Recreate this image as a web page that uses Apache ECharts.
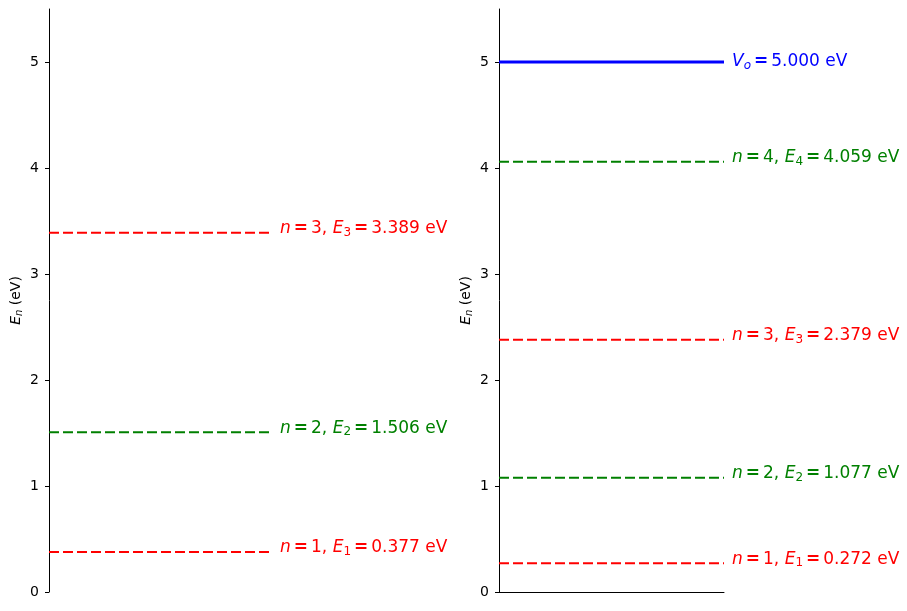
<!DOCTYPE html>
<html>
<head>
<meta charset="utf-8">
<script src="https://cdn.jsdelivr.net/npm/echarts@6/dist/echarts.min.js"></script>
<style>
  html, body { margin: 0; padding: 0; background: #fff; }
  #chart { width: 907px; height: 611px; }
</style>
</head>
<body>
<div id="chart"></div>
<script>
// 数据
const leftLevels = [0.377, 1.506, 3.389];
const leftColors = ['#ff0000', '#008000', '#ff0000'];
const rightLevels = [0.272, 1.077, 2.379, 4.059];
const rightColors = ['#ff0000', '#008000', '#ff0000', '#008000'];
const wellDepth = 5.0;
const yTicks = [0, 1, 2, 3, 4, 5];

const FONT = '"DejaVu Sans", sans-serif';
const LABEL_SIZE = 17;

// 标签的富文本样式
function labelRich(color, italicSub) {
    return {
        i: { fontStyle: 'italic', fontFamily: FONT, fontSize: LABEL_SIZE, color: color },
        sub: { fontStyle: italicSub ? 'italic' : 'normal', fontFamily: FONT, fontSize: 12, color: color, verticalAlign: 'bottom', padding: [8, 0, 0, 0] },
        t: { fontFamily: FONT, fontSize: LABEL_SIZE, color: color },
        eq: { fontFamily: FONT, fontSize: LABEL_SIZE, color: color, fontWeight: 'bold', padding: [0, 3, 0, 3] }
    };
}

function levelSeries(levels, colors, gridIdx) {
    return levels.map((e, k) => ({
        type: 'line',
        xAxisIndex: gridIdx,
        yAxisIndex: gridIdx,
        data: [[0, e], [1, e]],
        symbol: 'none',
        silent: true,
        lineStyle: { color: colors[k], width: 2, type: [10, 4] },
        endLabel: {
            show: true,
            distance: 8,
            offset: [0, -4],
            color: colors[k],
            fontSize: LABEL_SIZE,
            fontFamily: FONT,
            formatter: () => `{i|n}{eq|=}{t|${k + 1}, }{i|E}{sub|${k + 1}}{eq|=}{t|${e.toFixed(3)} eV}`,
            rich: labelRich(colors[k], false)
        }
    }));
}

function yAxisFor(gridIndex) {
    return {
        type: 'value',
        gridIndex: gridIndex,
        min: 0,
        max: 5.5,
        name: '{i|E}{sub|n}{t| (eV)}',
        nameLocation: 'middle',
        nameRotate: 90,
        nameGap: 25,
        nameTextStyle: {
            fontSize: 14,
            fontFamily: FONT,
            rich: {
                i: { fontStyle: 'italic', fontFamily: FONT, fontSize: 14, color: '#000' },
                sub: { fontStyle: 'italic', fontFamily: FONT, fontSize: 10, color: '#000', verticalAlign: 'bottom', padding: [5, 0, 0, 0] },
                t: { fontFamily: FONT, fontSize: 14, color: '#000' }
            }
        },
        splitLine: { show: false },
        axisLine: { show: true, onZero: false, lineStyle: { color: '#000', width: 1 } },
        axisTick: { show: true, length: 4, lineStyle: { color: '#000' }, customValues: yTicks },
        axisLabel: { color: '#000', fontFamily: FONT, fontSize: 14, margin: 10, customValues: yTicks }
    };
}

const chart = echarts.init(document.getElementById('chart'));

const option = {
    animation: false,
    backgroundColor: '#fff',
    textStyle: { fontFamily: FONT },
    grid: [
        { left: 49, width: 223, top: 9, bottom: 19 },
        { left: 499, width: 225, top: 9, bottom: 19 }
    ],
    xAxis: [
        {
            type: 'value', gridIndex: 0, min: 0, max: 1,
            axisLine: { show: false }, axisTick: { show: false },
            axisLabel: { show: false }, splitLine: { show: false }
        },
        {
            type: 'value', gridIndex: 1, min: 0, max: 1,
            axisLine: { show: true, onZero: false, lineStyle: { color: '#000', width: 1 } },
            axisTick: { show: false },
            axisLabel: { show: false }, splitLine: { show: false }
        }
    ],
    yAxis: [yAxisFor(0), yAxisFor(1)],
    series: [
        ...levelSeries(leftLevels, leftColors, 0),
        ...levelSeries(rightLevels, rightColors, 1),
        {
            type: 'line',
            xAxisIndex: 1,
            yAxisIndex: 1,
            data: [[0, wellDepth], [1, wellDepth]],
            symbol: 'none',
            silent: true,
            lineStyle: { color: '#0000ff', width: 3, type: 'solid' },
            endLabel: {
                show: true,
                distance: 8,
                offset: [0, 0],
                color: '#0000ff',
                fontSize: LABEL_SIZE,
                fontFamily: FONT,
                formatter: () => `{i|V}{sub|o}{eq|=}{t|${wellDepth.toFixed(3)} eV}`,
                rich: labelRich('#0000ff', true)
            }
        }
    ]
};

chart.setOption(option);
</script>
</body>
</html>
